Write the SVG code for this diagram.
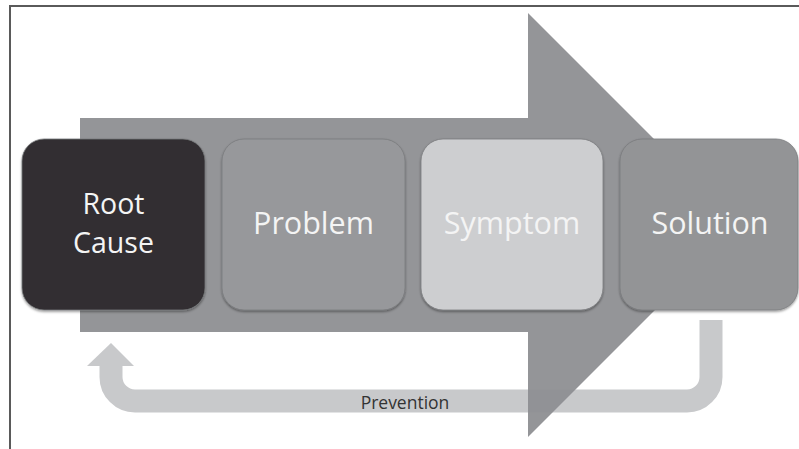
<svg xmlns="http://www.w3.org/2000/svg" width="799" height="449" viewBox="0 0 799 449">
  <style>
    .box { stroke: #7a7b7e; stroke-width: 0.8; filter: url(#shadow); }
    .label { font-family: "Open Sans", "Liberation Sans", sans-serif; font-size: 30.5px; fill: #f4f4f4; text-anchor: middle; }
    .two-line { font-size: 28.5px; }
    .small { font-family: "Open Sans", "Liberation Sans", sans-serif; font-size: 17.5px; fill: #333333; text-anchor: middle; }
  </style>
  <defs>
    <filter id="shadow" x="-10%" y="-10%" width="120%" height="125%">
      <feDropShadow dx="0" dy="1.5" stdDeviation="1" flood-color="#000" flood-opacity="0.4"/>
    </filter>
  </defs>

  <rect width="799" height="449" fill="#ffffff"/>
  <!-- frame -->
  <path d="M10,449 V6 H799" fill="none" stroke="#5a5a5a" stroke-width="2"/>

  <g id="connectors">
    <!-- feedback loop from Solution back to Root Cause -->
    <path d="M711,320 V377 A24,24 0 0 1 687,401 H135 A24,24 0 0 1 111,377 V366" fill="none" stroke="#c8c9cb" stroke-width="23"/>
    <path d="M87,366 L111,343 L134,366 Z" fill="#c8c9cb"/>
    <!-- main flow arrow -->
    <path d="M80,118 H528 V13 L740,225 L528,437 V332 H80 Z" fill="#8e8f92" fill-opacity="0.95"/>
  </g>

  <g id="root-cause">
    <rect class="box" x="22" y="139" width="183" height="171" rx="22" fill="#302e30"/>
    <text class="label two-line" x="113.5" y="214">Root</text>
    <text class="label two-line" x="113.5" y="253">Cause</text>
  </g>

  <g id="problem">
    <rect class="box" x="222" y="139" width="183" height="171" rx="22" fill="#97989b"/>
    <text class="label" x="313.5" y="234">Problem</text>
  </g>

  <g id="symptom">
    <rect class="box" x="421" y="139" width="182" height="171" rx="22" fill="#cdced0"/>
    <text class="label" x="512" y="234">Symptom</text>
  </g>

  <g id="solution">
    <rect class="box" x="620" y="139" width="178" height="171" rx="22" fill="#939496"/>
    <text class="label" x="710" y="234">Solution</text>
  </g>

  <g id="prevention-label">
    <text class="small" x="405" y="409">Prevention</text>
  </g>
</svg>
